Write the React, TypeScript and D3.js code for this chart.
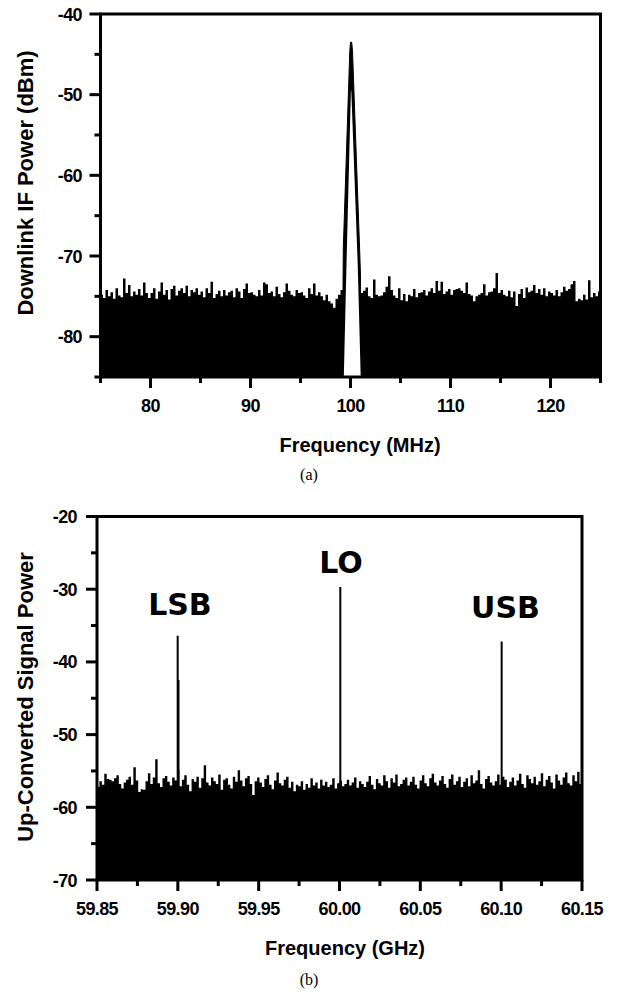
import React from "react";
import * as d3 from "d3";

// ---------- Panel (a) data ----------
const TOP_F0 = 75;
const TOP_STEP = 0.25;
// Noise floor envelope (dBm), one value per 0.25 MHz from 75 to 125 MHz; null = under carrier
const topNoise: (number | null)[] = [
  -74.8, -75.2, -74.2, -75.0, -74.5, -75.3, -74.0, -74.9, -75.1, -72.8, -74.6, -73.6,
  -75.0, -74.4, -74.8, -74.1, -74.9, -73.3, -74.6, -75.2, -74.6, -74.0, -75.3, -74.4,
  -73.3, -74.8, -74.2, -75.4, -74.1, -73.7, -74.9, -74.3, -74.0, -74.6, -73.7, -75.0,
  -74.2, -74.5, -74.0, -74.8, -74.4, -75.1, -74.0, -74.6, -73.2, -75.2, -74.7, -74.3,
  -75.0, -74.2, -74.9, -74.5, -74.3, -75.1, -74.0, -74.4, -75.2, -74.1, -73.4, -74.6,
  -74.5, -74.8, -75.0, -74.2, -74.9, -73.3, -73.5, -74.6, -74.4, -75.0, -73.8, -74.7,
  -75.1, -74.5, -73.4, -74.3, -74.8, -75.0, -74.2, -74.6, -74.5, -74.9, -75.2, -74.0,
  -74.7, -73.4, -74.9, -74.5, -75.0, -75.5, -74.8, -75.6, -75.9, -76.4, -75.3, -74.8,
  -74.2, -74.0, null, null, null, null, null, null,
  -74.6, -74.3, -73.9, -75.0, -75.2, -72.9, -74.8, -75.0, -74.9, -74.5, -73.8, -72.5,
  -74.2, -74.9, -75.2, -74.0, -75.5, -74.7, -75.6, -74.8, -75.0, -74.1, -75.1, -74.6,
  -74.5, -74.2, -74.9, -74.4, -74.0, -74.6, -73.1, -74.3, -73.2, -74.7, -74.4, -74.1,
  -74.8, -74.2, -74.1, -74.0, -74.3, -74.6, -73.3, -74.7, -74.9, -75.6, -75.0, -74.8,
  -74.6, -73.5, -74.9, -74.5, -74.4, -74.0, -72.1, -74.6, -74.2, -74.8, -75.0, -74.3,
  -75.1, -74.4, -76.2, -74.7, -74.1, -75.2, -73.9, -74.5, -74.3, -73.6, -74.6, -74.1,
  -74.8, -74.0, -75.0, -74.4, -74.6, -74.9, -74.2, -75.0, -74.5, -73.8, -74.3, -74.1,
  -73.5, -73.1, -75.6, -75.3, -75.5, -74.8, -75.4, -73.0, -75.1, -74.6, -75.0, -74.4,
  -74.6,
];
// Carrier at 100 MHz: outer trace and hollow interior
const topPeakF = [99.25, 99.28, 99.93, 100.0, 100.12, 100.2, 100.95, 101.0, 101.0];
const topPeakDb = [-74.0, -69.0, -44.6, -43.5, -43.5, -44.6, -70.5, -72.5, -74.6];
const topHoleF = [99.33, 99.6, 100.04, 100.08, 100.72, 101.02];
const topHoleDb = [-85, -71, -49.5, -49.5, -71, -85];

const topXTicks = [80, 90, 100, 110, 120];
const topXMinor = [75, 85, 95, 105, 115, 125];
const topYTicks = [-40, -50, -60, -70, -80];
const topYMinor = [-45, -55, -65, -75, -85];

// ---------- Panel (b) data ----------
const BOT_F0 = 59.85;
const BOT_STEP = 0.0015;
const botNoise: number[] = [
  -57.2, -56.4, -56.9, -55.4, -56.1, -56.2, -56.4, -56.0, -55.6, -56.8,
  -57.4, -56.6, -56.2, -55.8, -56.9, -54.5, -56.3, -57.9, -57.5, -57.6,
  -56.4, -55.3, -56.8, -55.9, -53.4, -56.7, -57.2, -56.0, -55.7, -56.5,
  -57.0, -55.9, -56.3, -54.8, -57.1, -56.2, -55.6, -56.9, -57.8, -56.1,
  -56.5, -55.8, -57.3, -56.0, -54.2, -56.6, -57.0, -55.9, -56.4, -56.8,
  -55.5, -57.6, -56.2, -56.0, -56.9, -57.4, -55.8, -56.5, -54.9, -56.3,
  -57.1, -56.0, -55.7, -56.8, -58.3, -56.4, -55.9, -56.6, -57.2, -56.1,
  -55.6, -56.9, -57.5, -56.3, -55.2, -56.7, -57.0, -56.2, -55.8, -57.3,
  -56.5, -57.8, -56.9, -57.1, -56.4, -57.6, -56.8, -57.3, -56.0, -57.0,
  -56.6, -57.4, -56.2, -57.0, -56.5, -57.2, -56.9, -56.0, -57.4, -56.7,
  -56.3, -57.1, -56.8, -56.2, -57.0, -56.6, -55.9, -57.3, -56.4, -56.8,
  -57.2, -56.5, -55.7, -56.9, -57.5, -56.1, -56.7, -57.0, -55.6, -56.4,
  -57.3, -56.0, -56.6, -55.5, -57.1, -56.8, -56.2, -55.9, -57.0, -56.5,
  -55.8, -56.9, -57.4, -56.3, -55.6, -56.7, -57.1, -56.0, -55.4, -56.6,
  -57.0, -56.3, -55.7, -56.8, -57.3, -56.1, -55.5, -56.9, -56.4, -55.8,
  -57.2, -56.5, -56.0, -57.1, -55.6, -56.7, -56.3, -54.9, -56.8, -57.4,
  -56.1, -55.7, -56.6, -57.0, -56.4, -55.5, -56.9, -55.8, -56.2, -57.2,
  -56.5, -55.9, -57.0, -56.3, -55.4, -56.8, -57.3, -55.6, -56.1, -56.7,
  -55.8, -56.9, -56.4, -55.3, -57.1, -56.2, -55.7, -56.6, -57.4, -55.5,
  -56.3, -56.9, -55.9, -55.2, -56.7, -57.0, -55.6, -56.4, -55.1, -56.8,
  -55.6,
];
// Spectral lines (LSB has a two-sample profile)
const botLineF = [59.8999, 59.9004, 60.0005, 60.1003];
const botLineDb = [-36.4, -42.5, -29.7, -37.2];
const botLabels = ["LSB", "LO", "USB"];
const botLabelF = [59.9013, 60.0009, 60.1027];
const botLabelDb = [-33.55, -27.8, -33.96];

const botXTicks = [59.85, 59.9, 59.95, 60.0, 60.05, 60.1, 60.15];
const botXMinor = [59.875, 59.925, 59.975, 60.025, 60.075, 60.125];
const botYTicks = [-20, -30, -40, -50, -60, -70];
const botYMinor = [-25, -35, -45, -55, -65];

const AX_FONT = "'Liberation Sans', Arial, sans-serif";

type AxesProps = {
  x: d3.ScaleLinear<number, number>;
  y: d3.ScaleLinear<number, number>;
  xTicks: number[];
  xMinor: number[];
  yTicks: number[];
  yMinor: number[];
  xFmt: (v: number) => string;
  yLabelX: number;
  xLabelY: number;
};

function Axes({ x, y, xTicks, xMinor, yTicks, yMinor, xFmt, yLabelX, xLabelY }: AxesProps) {
  const [x0, x1] = x.range();
  const [y0, y1] = y.range(); // y0 bottom, y1 top
  return (
    <g>
      {yTicks.map((t) => (
        <g key={"yt" + t}>
          <line x1={x0 - 11} x2={x0} y1={y(t)} y2={y(t)} stroke="#000" strokeWidth={3} />
          <text x={yLabelX} y={y(t) + 6.5} textAnchor="end" fontFamily={AX_FONT} fontWeight="bold" fontSize={18} letterSpacing={-0.6}>
            {t}
          </text>
        </g>
      ))}
      {yMinor.map((t) => (
        <line key={"ym" + t} x1={x0 - 6} x2={x0} y1={y(t)} y2={y(t)} stroke="#000" strokeWidth={3} />
      ))}
      {xTicks.map((t) => (
        <g key={"xt" + t}>
          <line x1={x(t)} x2={x(t)} y1={y0} y2={y0 + 11} stroke="#000" strokeWidth={3} />
          <text x={x(t)} y={xLabelY} textAnchor="middle" fontFamily={AX_FONT} fontWeight="bold" fontSize={18} letterSpacing={-0.6}>
            {xFmt(t)}
          </text>
        </g>
      ))}
      {xMinor.map((t) => (
        <line key={"xm" + t} x1={x(t)} x2={x(t)} y1={y0} y2={y0 + 6} stroke="#000" strokeWidth={3} />
      ))}
      <rect x={x0} y={y1} width={x1 - x0} height={y0 - y1} fill="none" stroke="#000" strokeWidth={3} />
    </g>
  );
}

export default function App() {
  // Panel (a)
  const xA = d3.scaleLinear().domain([75, 125]).range([100.5, 600.5]);
  const yA = d3.scaleLinear().domain([-85, -40]).range([377, 14]);
  const areaA = d3
    .area<number | null>()
    .defined((d) => d != null)
    .x((_, i) => xA(TOP_F0 + i * TOP_STEP))
    .y0(yA(-85))
    .y1((d) => yA(d as number))
    .curve(d3.curveStepAfter);
  const peakPts = topPeakF.map((f, i) => [f, topPeakDb[i]] as [number, number]);
  const peakArea = d3
    .area<[number, number]>()
    .x((d) => xA(d[0]))
    .y0(yA(-85))
    .y1((d) => yA(d[1]));
  const holePts = topHoleF.map((f, i) => [xA(f), yA(topHoleDb[i])] as [number, number]);
  const holeLine = d3.line<[number, number]>();

  // Panel (b)
  const xB = d3.scaleLinear().domain([59.85, 60.15]).range([97, 582]);
  const yB = d3.scaleLinear().domain([-70, -20]).range([880, 516.5]);
  const areaB = d3
    .area<number>()
    .x((_, i) => xB(BOT_F0 + i * BOT_STEP))
    .y0(yB(-70))
    .y1((d) => yB(d))
    .curve(d3.curveStepAfter);

  return (
    <svg
      width={619}
      height={998}
      viewBox="0 0 619 998"
      style={{ position: "absolute", left: 0, top: 0, background: "#fff" }}
    >
      <rect x={0} y={0} width={619} height={998} fill="#fff" />

      {/* ===== Panel (a) ===== */}
      <path d={areaA(topNoise) || ""} fill="#000" />
      <path d={peakArea(peakPts) || ""} fill="#000" stroke="#000" strokeWidth={1} />
      <path d={(holeLine(holePts) || "") + "Z"} fill="#fff" />
      <Axes
        x={xA}
        y={yA}
        xTicks={topXTicks}
        xMinor={topXMinor}
        yTicks={topYTicks}
        yMinor={topYMinor}
        xFmt={(v) => String(v)}
        yLabelX={82}
        xLabelY={412}
      />
      <text x={360} y={452} textAnchor="middle" fontFamily={AX_FONT} fontWeight="bold" fontSize={20}>
        Frequency (MHz)
      </text>
      <text
        transform={`translate(33,183) rotate(-90)`}
        textAnchor="middle"
        fontFamily={AX_FONT}
        fontWeight="bold"
        fontSize={22}
      >
        Downlink IF Power (dBm)
      </text>
      <text x={309} y={480} textAnchor="middle" fontFamily="'Liberation Serif', 'Times New Roman', serif" fontSize={16}>
        (a)
      </text>

      {/* ===== Panel (b) ===== */}
      <path d={areaB(botNoise) || ""} fill="#000" />
      {botLineF.map((f, i) => (
        <line key={"bl" + i} x1={xB(f)} x2={xB(f)} y1={yB(-70)} y2={yB(botLineDb[i])} stroke="#000" strokeWidth={2} />
      ))}
      {botLabels.map((s, i) => (
        <text
          key={s}
          x={xB(botLabelF[i])}
          y={yB(botLabelDb[i])}
          textAnchor="middle"
          fontFamily="'DejaVu Sans', Verdana, sans-serif"
          fontWeight="bold"
          fontSize={30}
        >
          {s}
        </text>
      ))}
      <Axes
        x={xB}
        y={yB}
        xTicks={botXTicks}
        xMinor={botXMinor}
        yTicks={botYTicks}
        yMinor={botYMinor}
        xFmt={(v) => v.toFixed(2)}
        yLabelX={77}
        xLabelY={915}
      />
      <text x={345} y={955} textAnchor="middle" fontFamily={AX_FONT} fontWeight="bold" fontSize={20}>
        Frequency (GHz)
      </text>
      <text
        transform={`translate(33,697) rotate(-90)`}
        textAnchor="middle"
        fontFamily={AX_FONT}
        fontWeight="bold"
        fontSize={22}
      >
        Up-Converted Signal Power
      </text>
      <text x={309} y={985} textAnchor="middle" fontFamily="'Liberation Serif', 'Times New Roman', serif" fontSize={16}>
        (b)
      </text>
    </svg>
  );
}
